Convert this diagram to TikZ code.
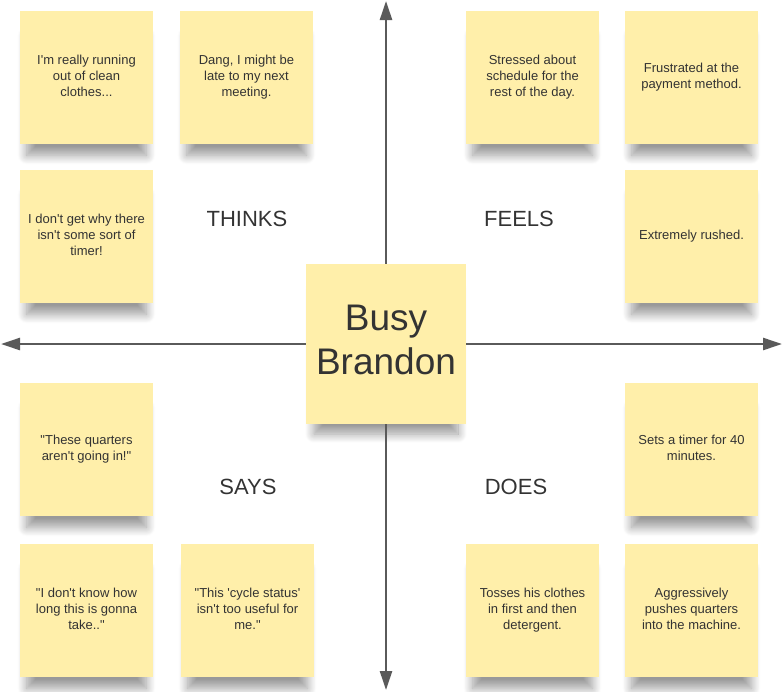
\documentclass[tikz,border=0pt]{standalone}
\usepackage{fontspec}
\setmainfont{Liberation Sans}[Ligatures=TeXOff]
\usetikzlibrary{arrows.meta, shadows.blur}
\definecolor{stickyfill}{HTML}{FFEFAA}
\definecolor{inktext}{HTML}{333333}
\definecolor{axisgray}{HTML}{5A5A5A}

\begin{document}
\begin{tikzpicture}[
        x=1pt,
        y=-1pt,
        sticky/.style={fill=stickyfill, minimum width=133pt, minimum height=133pt,
            inner sep=0pt, align=center, text=inktext, text depth=4pt,
            font=\fontsize{13}{16}\selectfont,
            blur shadow={shadow xshift=0pt, shadow yshift=-20pt, shadow scale=0.9,
                shadow blur radius=10pt, shadow blur steps=12, shadow opacity=40}},
        persona/.style={sticky, minimum width=160pt, minimum height=160pt,
            text depth=8pt, font=\fontsize{37}{44}\selectfont},
        quadrant/.style={text=inktext, font=\fontsize{22}{26}\selectfont},
        axis/.style={draw=axisgray, line width=2.5pt, -{Triangle[length=19pt, width=12pt]}}
    ]
        \useasboundingbox (0,0) rectangle (783,691);

        \node[persona] (brandon) at (386,344) {Busy\\Brandon};

        \node[quadrant] (thinks) at (247,219) {THINKS};
        \node[quadrant] (feels) at (519,219) {FEELS};
        \node[quadrant] (says) at (248,487) {SAYS};
        \node[quadrant] (does) at (516,487) {DOES};

        \node[sticky] (think1) at (86.5,77.5) {I'm really running\\out of clean\\clothes...};
        \node[sticky] (think2) at (246.5,77.5) {Dang, I might be\\late to my next\\meeting.};
        \node[sticky] (think3) at (86.5,236.5) {I don't get why there\\isn't some sort of\\timer!};

        \node[sticky] (feel1) at (532.5,77.5) {Stressed about\\schedule for the\\rest of the day.};
        \node[sticky] (feel2) at (691.5,77.5) {Frustrated at the\\payment method.};
        \node[sticky] (feel3) at (691.5,236.5) {Extremely rushed.};

        \node[sticky] (say1) at (86.5,449.5) {"These quarters\\aren't going in!"};
        \node[sticky] (say2) at (86.5,610.5) {"I don't know how\\long this is gonna\\take.."};
        \node[sticky] (say3) at (247.5,610.5) {"This 'cycle status'\\isn't too useful for\\me."};

        \node[sticky] (do1) at (691.5,449.5) {Sets a timer for 40\\minutes.};
        \node[sticky] (do2) at (532.5,610.5) {Tosses his clothes\\in first and then\\detergent.};
        \node[sticky] (do3) at (691.5,610.5) {Aggressively\\pushes quarters\\into the machine.};

        \coordinate (tipN) at (386,1);
        \coordinate (tipS) at (386,690);
        \coordinate (tipW) at (1,344);
        \coordinate (tipE) at (782,344);

        \draw[axis] (brandon.north) -- (tipN);
        \draw[axis] (brandon.south) -- (tipS);
        \draw[axis] (brandon.west) -- (tipW);
        \draw[axis] (brandon.east) -- (tipE);
    \end{tikzpicture}
\end{document}
